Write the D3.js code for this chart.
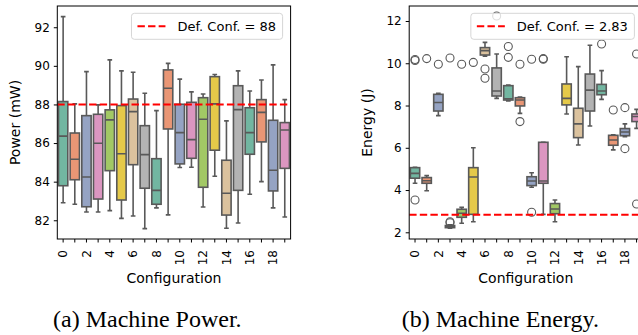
<!DOCTYPE html>
<html>
<head>
<meta charset="utf-8">
<script src="https://cdn.jsdelivr.net/npm/d3@7"></script>
<style>
  body { margin: 0; background: #fff; }
  svg { display: block; }
</style>
</head>
<body>
<div id="chart"></div>
<script>
// boxplot stats (whisker low, q1, median, q3, whisker high)
const configs = d3.range(20)
const tickLabels = [0, 2, 4, 6, 8, 10, 12, 14, 16, 18]

const powerLow  = [82.91, 82.83, 82.43, 82.43, 82.50, 82.10, 82.22, 81.57, 82.64, 82.28, 84.73, 84.75, 82.69, 84.28, 81.59, 81.86, 83.35, 84.00, 82.64, 82.17]
const powerQ1   = [83.79, 84.10, 82.70, 83.10, 84.57, 83.05, 84.88, 83.66, 82.83, 86.73, 84.92, 85.21, 83.71, 85.63, 82.27, 83.55, 85.42, 86.06, 83.52, 84.69]
const powerMed  = [86.36, 85.16, 84.24, 85.99, 87.20, 85.45, 87.63, 85.40, 83.55, 88.84, 86.54, 86.18, 87.23, 88.03, 83.40, 87.73, 86.54, 87.59, 84.59, 86.68]
const powerQ3   = [88.15, 86.52, 87.42, 87.49, 87.72, 87.94, 88.28, 86.90, 85.19, 89.79, 88.01, 88.11, 88.35, 89.44, 85.11, 88.97, 87.83, 88.25, 87.18, 87.06]
const powerHigh = [92.55, 88.03, 89.70, 87.98, 90.31, 89.74, 89.67, 88.58, 87.68, 90.13, 89.31, 88.65, 88.54, 89.55, 87.15, 89.74, 88.70, 89.27, 90.05, 88.25]
const powerDefault = 88

const energyLow  = [4.32, 3.97, 7.52, 2.20, 2.43, 2.50, 10.34, 8.34, 8.22, 7.63, 4.13, 2.85, 2.50, 7.60, 6.13, 7.03, 8.29, 5.90, 6.53, 6.92]
const energyQ1   = [4.56, 4.32, 7.74, 2.22, 2.71, 2.85, 10.39, 8.45, 8.26, 7.98, 4.21, 4.32, 2.88, 8.03, 6.48, 7.74, 8.51, 6.12, 6.57, 7.24]
const energyMed  = [4.79, 4.44, 8.14, 2.27, 2.90, 4.62, 10.60, 8.69, 8.32, 8.26, 4.43, 4.43, 3.10, 8.34, 7.13, 8.73, 8.69, 6.37, 6.75, 7.48]
const energyQ3   = [5.06, 4.59, 8.53, 2.32, 3.09, 5.06, 10.74, 9.78, 8.94, 8.37, 4.63, 6.26, 3.36, 9.02, 7.87, 9.49, 9.00, 6.59, 6.91, 7.60]
const energyHigh = [5.08, 4.68, 8.58, 2.35, 3.18, 6.00, 10.99, 10.44, 8.97, 8.40, 4.82, 6.26, 3.53, 10.31, 9.84, 10.85, 9.65, 6.62, 7.13, 7.82]
const energyOutliers = [
  [10.13, 10.18, 3.53], [10.22], [9.95], [2.45, 2.50, 10.25], [9.95], [10.04],
  [9.73, 9.29], [12.24], [10.79, 10.28], [9.95, 7.24], [10.19, 2.95], [10.19, 10.22],
  [], [], [], [], [10.91], [7.79], [7.90, 5.96], [10.44, 3.34]
]
const energyDefault = 2.83

const set2 = ["#66c2a5", "#fc8d62", "#8da0cb", "#e78ac3", "#a6d854", "#ffd92f", "#e5c494", "#b3b3b3"]
const palette = set2.map(c => { const h = d3.hsl(c); h.s *= 0.75; return h.formatHex() })
const gray = "#595959"

const W = 638, H = 335
const svg = d3.select("#chart").append("svg")
  .attr("width", W).attr("height", H)
  .style("font-family", "'DejaVu Sans', sans-serif")

function panel(opts) {
  const {x0, x1, y0, y1, domain, yTicks, ylabel, low, q1, med, q3, high, outliers, def, legendText, caption, capX} = opts

  const x = d3.scaleBand().domain(configs).range([x0, x1])
  const y = d3.scaleLinear().domain(domain).range([y1, y0])
  const bw = x.bandwidth() * 0.8
  const g = svg.append("g")

  const clipId = "clip" + x0
  g.append("clipPath").attr("id", clipId).append("rect")
    .attr("x", x0).attr("y", y0).attr("width", x1 - x0).attr("height", y1 - y0)
  const plot = g.append("g").attr("clip-path", `url(#${clipId})`)

  configs.forEach(i => {
    const cx = x(i) + x.bandwidth() / 2
    const b = plot.append("g").attr("stroke", gray).attr("stroke-width", 1.6).attr("fill", "none")
    // whiskers
    b.append("line").attr("x1", cx).attr("x2", cx).attr("y1", y(low[i])).attr("y2", y(q1[i]))
    b.append("line").attr("x1", cx).attr("x2", cx).attr("y1", y(q3[i])).attr("y2", y(high[i]))
    // caps
    b.append("line").attr("x1", cx - bw / 4).attr("x2", cx + bw / 4).attr("y1", y(low[i])).attr("y2", y(low[i]))
    b.append("line").attr("x1", cx - bw / 4).attr("x2", cx + bw / 4).attr("y1", y(high[i])).attr("y2", y(high[i]))
    // box
    b.append("rect")
      .attr("x", cx - bw / 2).attr("width", bw)
      .attr("y", y(q3[i])).attr("height", Math.max(0.5, y(q1[i]) - y(q3[i])))
      .attr("fill", palette[i % palette.length])
    b.append("line").attr("x1", cx - bw / 2).attr("x2", cx + bw / 2).attr("y1", y(med[i])).attr("y2", y(med[i]))
    // fliers
    if (outliers) {
      b.selectAll("circle").data(outliers[i]).join("circle")
        .attr("cx", cx).attr("cy", d => y(d)).attr("r", 4)
        .attr("stroke-width", 1.1)
    }
  })

  // default configuration line
  plot.append("line")
    .attr("x1", x0).attr("x2", x1).attr("y1", y(def)).attr("y2", y(def))
    .attr("stroke", "red").attr("stroke-width", 2).attr("stroke-dasharray", "7.4,3.2")

  // frame
  g.append("rect").attr("x", x0).attr("y", y0).attr("width", x1 - x0).attr("height", y1 - y0)
    .attr("fill", "none").attr("stroke", "#000").attr("stroke-width", 1)

  // y axis
  const yAxis = g.append("g").attr("transform", `translate(${x0},0)`)
    .call(d3.axisLeft(y).tickValues(yTicks).tickSize(3.5).tickPadding(4).tickFormat(d3.format("d")))
  yAxis.select(".domain").remove()
  yAxis.selectAll("text").attr("font-size", 12).attr("fill", "#000").attr("font-family", "'DejaVu Sans', sans-serif")
  yAxis.selectAll("line").attr("stroke", "#000")

  // x axis
  const xAxis = g.append("g").attr("transform", `translate(0,${y1})`)
    .call(d3.axisBottom(x).tickSize(3.5).tickFormat(d => tickLabels.includes(d) ? d : ""))
  xAxis.select(".domain").remove()
  xAxis.selectAll("line").attr("stroke", "#000")
  xAxis.selectAll("text")
    .attr("font-size", 12).attr("fill", "#000").attr("font-family", "'DejaVu Sans', sans-serif")
    .attr("transform", "rotate(-90)")
    .attr("x", -11).attr("y", 0).attr("dy", "0.36em")
    .attr("text-anchor", "end")

  // axis labels
  g.append("text").attr("x", (x0 + x1) / 2).attr("y", 283)
    .attr("text-anchor", "middle").attr("font-size", 14).attr("fill", "#000").text("Configuration")
  g.append("text").attr("transform", `translate(${x0 - 37.3},${(y0 + y1) / 2}) rotate(-90)`)
    .attr("text-anchor", "middle").attr("font-size", 14).attr("fill", "#000").text(ylabel)

  // legend
  const lg = g.append("g")
  const boxRight = x1 - 8
  const txt = lg.append("text").attr("font-size", 13).attr("fill", "#000").text(legendText)
  const tw = txt.node().getComputedTextLength()
  const textStart = boxRight - 6.5 - tw
  const lineEnd = textStart - 12, lineStart = lineEnd - 28, boxLeft = lineStart - 6
  lg.insert("rect", "text")
    .attr("x", boxLeft).attr("y", 13.3).attr("width", boxRight - boxLeft).attr("height", 26)
    .attr("rx", 3).attr("fill", "#fff").attr("fill-opacity", 0.8).attr("stroke", "#d6d6d6")
  lg.insert("line", "text")
    .attr("x1", lineStart).attr("x2", lineEnd).attr("y1", 26.3).attr("y2", 26.3)
    .attr("stroke", "red").attr("stroke-width", 2).attr("stroke-dasharray", "7.4,3.2")
  txt.attr("x", textStart).attr("y", 30.8)

  // caption
  svg.append("text").attr("x", capX).attr("y", 326.7)
    .attr("font-family", "'Liberation Serif', 'Times New Roman', serif")
    .attr("font-size", 24).attr("fill", "#000").text(caption)
}

panel({
  x0: 57.3, x1: 290.6, y0: 6, y1: 239, domain: [81.03, 93.10], yTicks: [82, 84, 86, 88, 90, 92],
  ylabel: "Power (mW)", low: powerLow, q1: powerQ1, med: powerMed, q3: powerQ3, high: powerHigh,
  outliers: null, def: powerDefault, legendText: "Def. Conf. = 88",
  caption: "(a) Machine Power.", capX: 53
})

panel({
  x0: 409.2, x1: 642.4, y0: 6, y1: 239, domain: [1.683, 12.71], yTicks: [2, 4, 6, 8, 10, 12],
  ylabel: "Energy (J)", low: energyLow, q1: energyQ1, med: energyMed, q3: energyQ3, high: energyHigh,
  outliers: energyOutliers, def: energyDefault, legendText: "Def. Conf. = 2.83",
  caption: "(b) Machine Energy.", capX: 401.7
})
</script>
</body>
</html>
